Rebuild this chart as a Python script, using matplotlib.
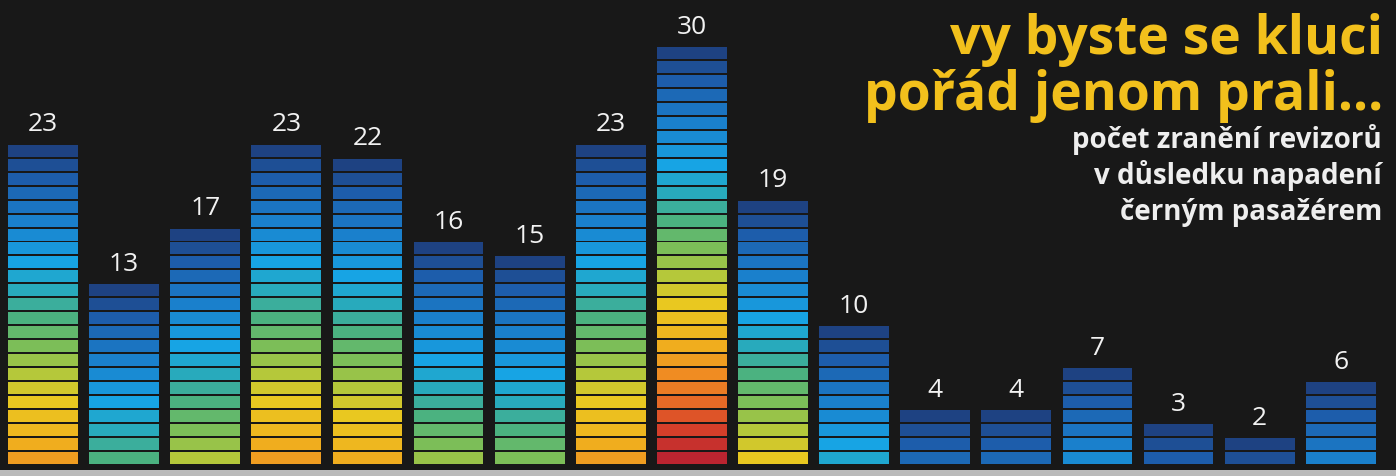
import matplotlib
matplotlib.use("Agg")
import matplotlib.pyplot as plt
from matplotlib.colors import LinearSegmentedColormap

# injuries of ticket inspectors per period, left to right
values = [23, 13, 17, 23, 22, 16, 15, 23, 30, 19, 10, 4, 4, 7, 3, 2, 6]

title_lines = ["vy byste se kluci", "pořád jenom prali..."]
subtitle_lines = ["počet zranění revizorů", "v důsledku napadení", "černým pasažérem"]

# stripe colour depends on depth below the top of the bar (in stripes)
depth_stops = [0, 2, 5, 8, 10, 12, 14, 16, 18, 21, 23, 25, 27, 29]
depth_colors = ["#1e4282", "#1d5eac", "#1a80cc", "#17a4e4", "#28aabc", "#4cb27e",
                "#7cbe58", "#b4c83a", "#eac820", "#f0ae1e", "#f08e22", "#e66a26",
                "#d6402a", "#bb2430"]
cmap = LinearSegmentedColormap.from_list(
    "depth", [(d / depth_stops[-1], c) for d, c in zip(depth_stops, depth_colors)])

bg = "#181818"
fig = plt.figure(figsize=(13.96, 4.76), dpi=100, facecolor=bg)
ax = fig.add_axes([0, 0, 1, 1], facecolor=bg)

for i, v in enumerate(values):
    for j in range(v):
        depth = v - 1 - j
        ax.bar(i, 0.86, bottom=j + 0.14, width=0.86,
               color=cmap(min(depth / depth_stops[-1], 1.0)), linewidth=0)
    ax.text(i, v + 0.95, str(v), ha="center", va="baseline",
            color="#f2f2f2", fontsize=19, family="Open Sans")

# light strip along the bottom
ax.axhspan(-1.0, -0.28, color="#d8d8d8", alpha=0.85, linewidth=0)

ax.set_xlim(-0.53, 16.68)
ax.set_ylim(-0.72, 33.36)
ax.axis("off")

H = 476.0
fig.text(1383 / 1396, 1 - 54 / H, title_lines[0], ha="right", va="baseline",
         color="#f2c01c", fontsize=38.5, fontweight="bold", family="Open Sans")
fig.text(1383 / 1396, 1 - 110 / H, title_lines[1], ha="right", va="baseline",
         color="#f2c01c", fontsize=38.5, fontweight="bold", family="Open Sans")
for k, line in enumerate(subtitle_lines):
    fig.text(1382 / 1396, 1 - (148 + 36 * k) / H, line, ha="right", va="baseline",
             color="#eeeeee", fontsize=20, fontweight="bold", family="Open Sans")

fig.savefig("out.png", dpi=100, facecolor=bg)
